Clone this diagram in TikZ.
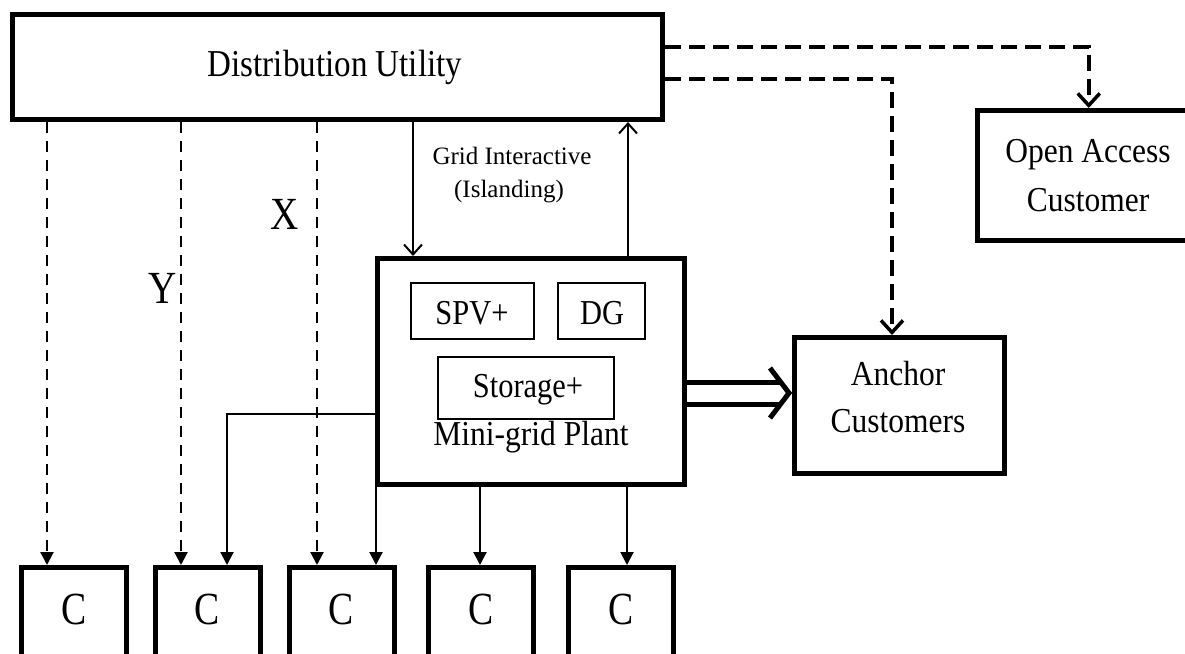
\documentclass[tikz,border=0pt]{standalone}
\usepackage{fontspec}
\setmainfont{Liberation Serif}
\usetikzlibrary{arrows.meta,calc}
\newcommand\sqz[2][0.87]{\scalebox{#1}[1]{#2}}
\begin{document}
\begin{tikzpicture}[x=1pt,y=-1pt,
  box/.style={draw, line width=5pt, inner sep=0pt},
  sbox/.style={draw, line width=1.8pt, inner sep=0pt},
  big/.style={inner sep=0pt, font=\fontsize{38}{40}\selectfont},
  mid/.style={inner sep=0pt, font=\fontsize{35}{38}\selectfont},
  small/.style={inner sep=0pt, font=\fontsize{25}{28}\selectfont},
  lett/.style={inner sep=0pt, font=\fontsize{46}{48}\selectfont},
  dsh/.style={line width=2.2pt, dash pattern=on 11pt off 8pt, -{Triangle[length=13pt,width=13pt]}},
  sol/.style={line width=2pt, -{Triangle[length=13pt,width=13pt]}},
  opn/.style={line width=2pt, -{Straight Barb[length=10pt,width=18pt,line width=2pt]}},
  tdsh/.style={line width=4pt, dash pattern=on 16pt off 8pt, -{Straight Barb[length=12pt,width=22pt,line width=3.5pt]}},
  dbl/.style={line width=5pt, double distance=17pt},
  chev/.style={line width=5pt, miter limit=20}
]
\useasboundingbox (0,0) rectangle (1185,653);
\fill[white] (0,0) rectangle (1185,653);
\clip (0,0) rectangle (1185,653);

% boxes
\node[box, minimum width=650pt, minimum height=105pt] (du) at (337.5,67) {};
\node[big] at (335,67) {\sqz{Distribution Utility}};
\node[box, minimum width=222.5pt, minimum height=130pt] (oa) at (1088.75,175.5) {};
\node[mid] at (1088,155) {\sqz[0.9]{Open Access}};
\node[mid] at (1088,200) {\sqz[0.9]{Customer}};
\node[box, minimum width=307pt, minimum height=226pt] (mg) at (531,371.5) {};
\node[sbox, minimum width=123pt, minimum height=56pt] (spv) at (472.5,311) {};
\node[mid] at (472,313) {\sqz{SPV+}};
\node[sbox, minimum width=87pt, minimum height=56pt] (dg) at (601.5,311) {};
\node[mid] at (602,313) {\sqz{DG}};
\node[sbox, minimum width=176pt, minimum height=62pt] (st) at (526,388) {};
\node[mid] at (528,390) {\sqz{Storage+}};
\node[mid] at (531,437) {\sqz[0.9]{Mini-grid Plant}};
\node[box, minimum width=210pt, minimum height=136pt] (an) at (899.5,405.5) {};
\node[mid] at (898,374) {\sqz[0.9]{Anchor}};
\node[mid] at (898,421) {\sqz[0.9]{Customers}};

\foreach \n/\x in {1/74,2/207.5,3/341.5,4/481,5/621}{
  \node[box, minimum width=105pt, minimum height=100pt] (c\n) at (\x,617.5) {};
  \node[lett] at (\x,609) {\sqz[0.82]{C}};
}

% labels
\node[small] at (512,156) {Grid Interactive};
\node[small] at (509,192) {(Islanding)};
\node[lett] at (285,214) {\sqz[0.85]{X}};
\node[lett] at (163,288) {\sqz[0.85]{Y}};

% coordinates for connector columns
\coordinate (k1) at (47,0);
\coordinate (k2) at (181,0);
\coordinate (k3) at (317,0);
\coordinate (k4) at (227,414);
\coordinate (k5) at (376,0);
\coordinate (k6) at (480,0);
\coordinate (k7) at (627,0);
\coordinate (k8) at (413,0);
\coordinate (k9) at (628,0);
\coordinate (t1) at (0,47);
\coordinate (t2) at (0,79);
\coordinate (ax) at (892,0);
\coordinate (dy) at (0,393);

% dashed from utility to customers
\draw[dsh] (du.south -| k1) -- (c1.north -| k1);
\draw[dsh] (du.south -| k2) -- (c2.north -| k2);
\draw[dsh] (du.south -| k3) -- (c3.north -| k3);

% mini-grid to customers
\draw[sol] (mg.west |- k4) -| (c2.north -| k4);
\draw[sol] (mg.south -| k5) -- (c3.north -| k5);
\draw[sol] (mg.south -| k6) -- (c4.north -| k6);
\draw[sol] (mg.south -| k7) -- (c5.north -| k7);

% grid interactive
\draw[opn] (du.south -| k8) -- (mg.north -| k8);
\draw[opn] (mg.north -| k9) -- (du.south -| k9);

% thick dashed
\draw[tdsh] (du.east |- t1) -| (oa.north);
\draw[tdsh] (du.east |- t2) -| (an.north -| ax);

% double arrow
\coordinate (ah) at ($(an.west |- dy)+(-3,0)$);
\draw[dbl] (mg.east |- dy) -- ($(ah)+(-9,0)$);
\draw[chev] ($(ah)+(-19,-25)$) -- (ah) -- ($(ah)+(-19,25)$);
\end{tikzpicture}
\end{document}
